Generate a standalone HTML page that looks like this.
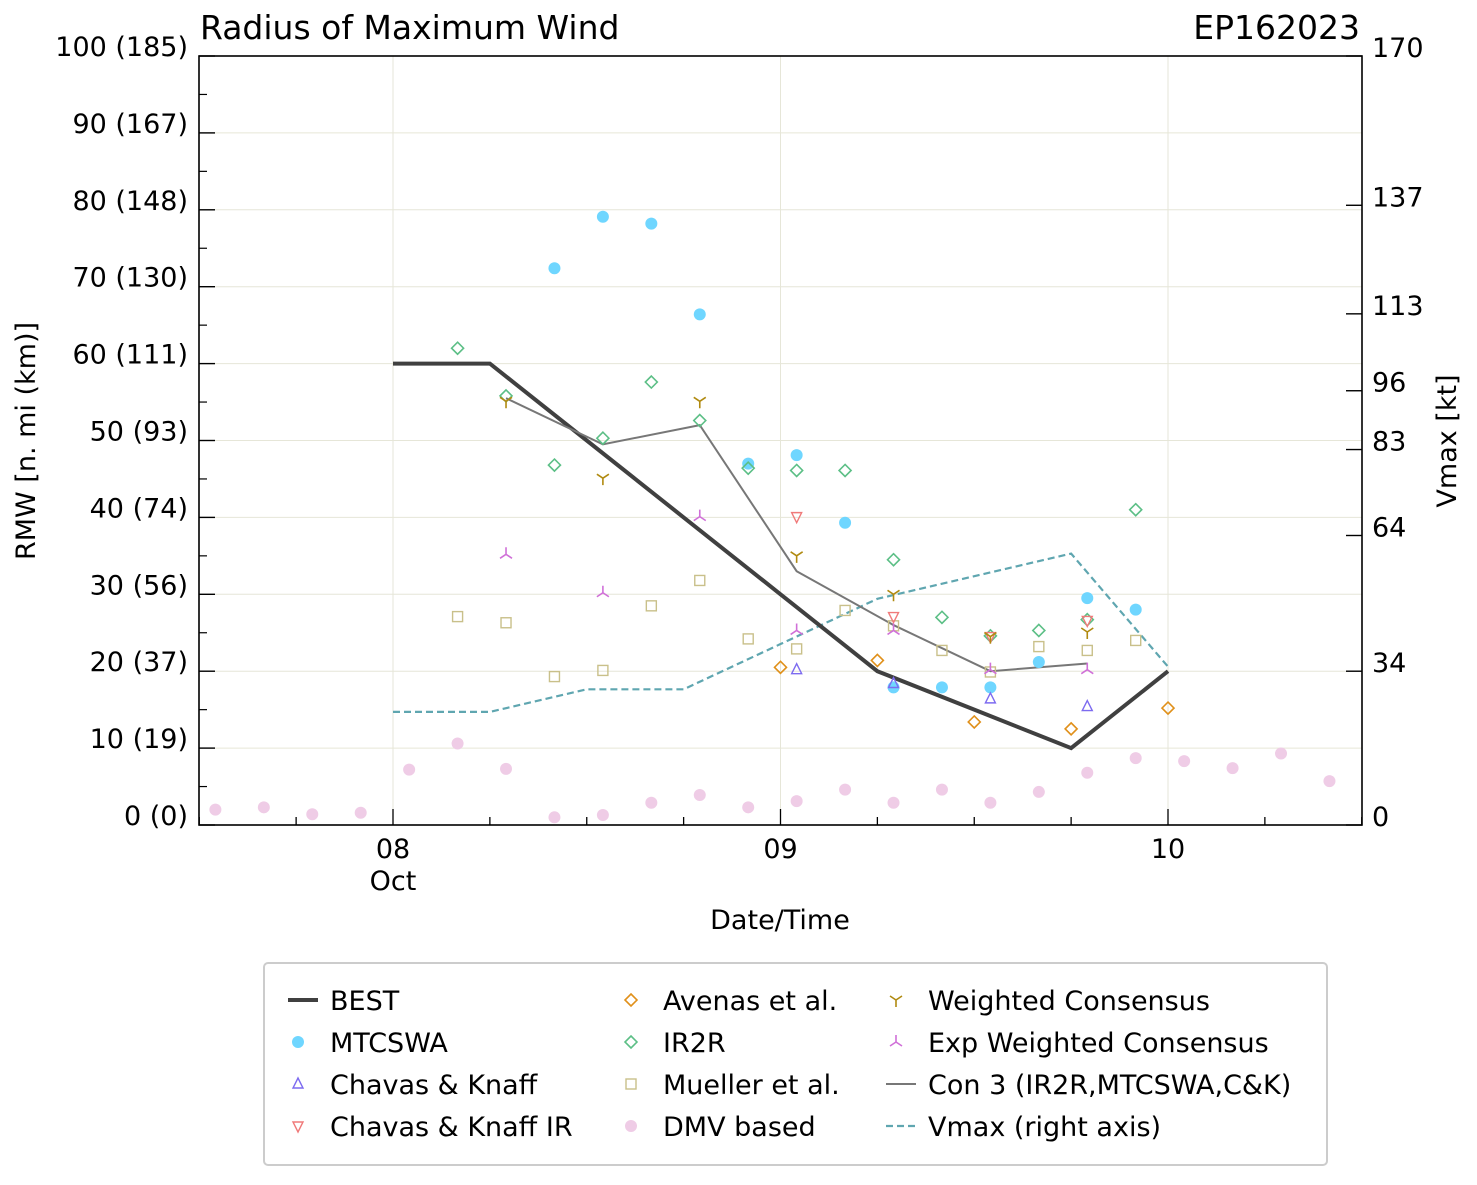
<!DOCTYPE html>
<html><head><meta charset="utf-8"><style>
body{margin:0;background:#fff}
svg text{font-family:"DejaVu Sans","Liberation Sans",sans-serif;fill:#000}
</style></head><body>
<svg id="chart" width="1477" height="1180" xmlns="http://www.w3.org/2000/svg">
<rect width="1477" height="1180" fill="#fff"/>
<g id="grid"></g>
<g id="series"></g>
<rect x="199" y="56" width="1163" height="769" fill="none" stroke="#000" stroke-width="1.6"/>
<g id="axes"></g>
<text x="200" y="39" font-size="33">Radius of Maximum Wind</text>
<text x="1360" y="39" font-size="33" text-anchor="end">EP162023</text>
<text x="780" y="929" font-size="27" text-anchor="middle">Date/Time</text>
<text transform="translate(35,441) rotate(-90)" font-size="27" text-anchor="middle">RMW [n. mi (km)]</text>
<text transform="translate(1456,441) rotate(-90)" font-size="27" text-anchor="middle">Vmax [kt]</text>
<g id="legend"></g>
</svg>
<script>
const NS="http://www.w3.org/2000/svg";
// data (hours from 08 Oct 00Z)
const bestH=[0,6,12,18,24,30,36,42,48];
const bestV=[60,60,50,40,30,20,15,10,20];
const vmaxH=[0,6,12,18,24,30,36,42,48];
const vmaxV=[25,25,30,30,40,50,55,60,35];
const con3H=[7,13,19,25,31,37,43];
const con3V=[55.5,49.5,52,33,26,20,21];
const mtcH=[10,13,16,19,22,25,28,31,34,37,40,43,46];
const mtcV=[72.4,79.1,78.2,66.4,47.0,48.1,39.3,17.9,17.9,17.9,21.2,29.5,28.0];
const irH=[4,7,10,13,16,19,22,25,28,31,34,37,40,43,46];
const irV=[62.0,55.8,46.8,50.3,57.6,52.6,46.4,46.1,46.1,34.5,27.0,24.6,25.3,26.7,41.0];
const muH=[4,7,10,13,16,19,22,25,28,31,34,37,40,43,46];
const muV=[27.1,26.3,19.3,20.1,28.5,31.8,24.2,22.9,27.9,25.9,22.7,19.9,23.2,22.7,24.0];
const avH=[24,30,36,42,48];
const avV=[20.5,21.4,13.4,12.5,15.2];
const ckH=[25,31,37,43];
const ckV=[20.2,18.4,16.4,15.4];
const ckirH=[25,31,37,43];
const ckirV=[40.1,27.1,24.5,26.6];
const wcH=[7,13,19,25,31,37,43];
const wcV=[55.1,45.1,55.1,35.0,30.0,24.5,25.1];
const ewH=[7,13,19,25,31,37,43];
const ewV=[35.2,30.2,40.1,25.3,25.3,20.2,20.2];
const dmvH=[-11,-8,-5,-2,1,4,7,10,13,16,19,22,25,28,31,34,37,40,43,46,49,52,55,58];
const dmvV=[2.0,2.3,1.4,1.6,7.2,10.6,7.3,1.0,1.3,2.9,3.9,2.3,3.1,4.6,2.9,4.6,2.9,4.3,6.8,8.7,8.3,7.4,9.3,5.7];
const leftTicks=[0,10,20,30,40,50,60,70,80,90,100];
const leftLabels=["0 (0)","10 (19)","20 (37)","30 (56)","40 (74)","50 (93)","60 (111)","70 (130)","80 (148)","90 (167)","100 (185)"];
const rightTicks=[0,34,64,83,96,113,137,170];
const dayTicks=[0,24,48];
const dayLabels=["08","09","10"];

const X=h=>393+h*387.5/24;
const Y=v=>825-v*7.69;
const YV=k=>825-k*769/170;
function mk(tag,attrs,parent){const e=document.createElementNS(NS,tag);for(const k in attrs)e.setAttribute(k,attrs[k]);parent.appendChild(e);return e;}
const grid=document.getElementById('grid'),axes=document.getElementById('axes'),ser=document.getElementById('series'),leg=document.getElementById('legend');
leftTicks.forEach((v,i)=>{
  const g=mk('line',{x1:199,x2:1362,y1:Y(v),y2:Y(v),stroke:'#e6e6d8','stroke-width':1},grid);
  
  
  mk('line',{x1:199,x2:215,y1:Y(v),y2:Y(v),stroke:'#000','stroke-width':1.4},axes);
  if(v<100)mk('line',{x1:199,x2:207,y1:Y(v+5),y2:Y(v+5),stroke:'#000','stroke-width':1.2},axes);
  const t=mk('text',{x:188,y:Y(v)-0,'font-size':27,'text-anchor':'end'},axes);
  
  
  t.textContent=leftLabels[i];
});
rightTicks.forEach(k=>{
  mk('line',{x1:1346,x2:1362,y1:YV(k),y2:YV(k),stroke:'#000','stroke-width':1.4},axes);
  const t=mk('text',{x:1372,y:YV(k)+1,'font-size':27},axes);
  
  
  t.textContent=k;
});
for(let h=-12;h<=60;h+=6){
  const major=h%24===0;
  mk('line',{x1:X(h),x2:X(h),y1:825,y2:major?809:817,stroke:'#000','stroke-width':1.3},axes);
}
dayTicks.forEach((h,i)=>{
  const g=mk('line',{x1:X(h),x2:X(h),y1:56,y2:825,stroke:'#e6e6d8','stroke-width':1},grid);
  
  
  const t=mk('text',{x:X(h),y:858,'font-size':27,'text-anchor':'middle'},axes);
  
  
  t.textContent=dayLabels[i];
});
const oct=mk('text',{x:X(0),y:890,'font-size':27,'text-anchor':'middle'},axes);oct.textContent='Oct';



function marker(type,cx,cy,color,parent){
  const s=6;
  if(type==='circle')return mk('circle',{cx,cy,r:6,fill:color,stroke:'none'},parent);
  if(type==='diamond')return mk('polygon',{points:`${cx},${cy-s} ${cx+s},${cy} ${cx},${cy+s} ${cx-s},${cy}`,fill:'none',stroke:color,'stroke-width':1.6},parent);
  if(type==='square')return mk('rect',{x:cx-5,y:cy-5,width:10,height:10,fill:'none',stroke:color,'stroke-width':1.4},parent);
  if(type==='tri-up')return mk('polygon',{points:`${cx},${cy-6} ${cx+5},${cy+4} ${cx-5},${cy+4}`,fill:'none',stroke:color,'stroke-width':1.4},parent);
  if(type==='tri-down')return mk('polygon',{points:`${cx},${cy+6} ${cx+5},${cy-4} ${cx-5},${cy-4}`,fill:'none',stroke:color,'stroke-width':1.4},parent);
  if(type==='y-down')return mk('path',{d:`M${cx},${cy} v7 M${cx},${cy} l-6,-4 M${cx},${cy} l6,-4`,fill:'none',stroke:color,'stroke-width':1.6},parent);
  if(type==='y-up')return mk('path',{d:`M${cx},${cy} v-7 M${cx},${cy} l-6,4 M${cx},${cy} l6,4`,fill:'none',stroke:color,'stroke-width':1.6},parent);
}
function line(hs,vs,yf,attrs,name){
  const p=mk('polyline',Object.assign({points:hs.map((h,i)=>X(h)+','+yf(vs[i])).join(' '),fill:'none'},attrs),ser);
  
  
}
function pts(hs,vs,type,color,name){
  hs.forEach((h,i)=>{const m=marker(type,X(h),Y(vs[i]),color,ser);
    
    });
}
pts(dmvH,dmvV,'circle','#efcce6','dmv-point');
line(vmaxH,vmaxV,YV,{stroke:'#5fa6b0','stroke-width':2.2,'stroke-dasharray':'7,4'},'vmax-line');
line(bestH,bestV,Y,{stroke:'#404040','stroke-width':4},'best-line');
line(con3H,con3V,Y,{stroke:'#777','stroke-width':2},'con3-line');
pts(mtcH,mtcV,'circle','#6fd6ff','mtcswa-point');
pts(irH,irV,'diamond','#5cbf86','ir2r-point');
pts(muH,muV,'square','#c9c08a','mueller-point');
pts(avH,avV,'diamond','#e0901a','avenas-point');
pts(ckH,ckV,'tri-up','#7d6bf0','chavas-knaff-point');
pts(ckirH,ckirV,'tri-down','#f07a7a','chavas-knaff-ir-point');
pts(wcH,wcV,'y-down','#b08a10','weighted-consensus-point');
pts(ewH,ewV,'y-up','#d070d8','exp-weighted-consensus-point');

const lb=mk('rect',{x:264,y:963,width:1063,height:202,rx:4,fill:'#fff',stroke:'#ccc','stroke-width':2},leg);


const items=[
 [0,0,'line','#404040','BEST'],[0,1,'circle','#6fd6ff','MTCSWA'],[0,2,'tri-up','#7d6bf0','Chavas & Knaff'],[0,3,'tri-down','#f07a7a','Chavas & Knaff IR'],
 [1,0,'diamond','#e0901a','Avenas et al.'],[1,1,'diamond','#5cbf86','IR2R'],[1,2,'square','#c9c08a','Mueller et al.'],[1,3,'circle','#efcce6','DMV based'],
 [2,0,'y-down','#b08a10','Weighted Consensus'],[2,1,'y-up','#d070d8','Exp Weighted Consensus'],[2,2,'line2','#777','Con 3 (IR2R,MTCSWA,C&K)'],[2,3,'dash','#5fa6b0','Vmax (right axis)']];
const colX=[288,621,886];
items.forEach(([c,r,type,color,label])=>{
  const g=mk('g',{},leg);
  
  
  const x=colX[c],y=1000+r*42;
  if(type==='line')mk('line',{x1:x,x2:x+30,y1:y,y2:y,stroke:color,'stroke-width':4},g);
  else if(type==='line2')mk('line',{x1:x,x2:x+30,y1:y,y2:y,stroke:color,'stroke-width':2},g);
  else if(type==='dash')mk('line',{x1:x,x2:x+30,y1:y,y2:y,stroke:color,'stroke-width':2.2,'stroke-dasharray':'7,4'},g);
  else marker(type,x+10,y,color,g);
  const t=mk('text',{x:x+42,y:y+10,'font-size':27},g);t.textContent=label;
});
</script>
</body></html>
